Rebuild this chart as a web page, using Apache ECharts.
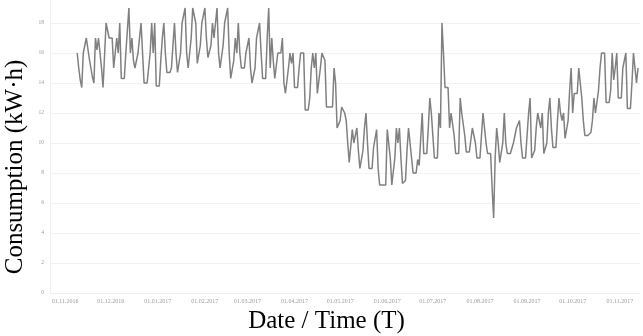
<!DOCTYPE html>
<html>
<head>
<meta charset="utf-8">
<script src="https://cdn.jsdelivr.net/npm/echarts@6/dist/echarts.min.js"></script>
<style>
html, body {margin:0; padding:0; background:#fff;}
#chart {width:643px; height:336px;}
</style>
</head>
<body>
<div id="chart"></div>
<script>

// daily readings, first one on first_day
var first_day = '09.11.2016'
var tick_labels = ['01.11.2016','01.12.2016','01.01.2017','01.02.2017','01.03.2017','01.04.2017','01.05.2017',
                   '01.06.2017','01.07.2017','01.08.2017','01.09.2017','01.10.2017','01.11.2017']

var kwh_nov_dec = [16,15,14.2,13.7,16,16.5,17,16.3,15.6,15,14.4,14,17,16.2,17,17,15,13.7,13.7,18,
                   17.5,17,17,17,15,16,17,16,18,14.3,14.3,14.3,16,17.5,19,16,17,15.5,15,15,
                   16,17,18,16,14,14,14,14,16,18,16,18,13.8,13.8,13.8,15.5,17,18,16,14.7]
var kwh_jan_feb = [14.7,14.7,15,16.5,18,16,14.7,14.7,16,18,18,19,16,15,15,17,19,18.5,18,15.3,
                   15.3,16.5,18,18.5,19,17,15.7,15.7,16.5,18,17,18,19,16,15,15,16.5,18,18,19,
                   16,14.3,14.3,15.5,17,16,18,16,15,15,15,16,16,17,15,14,14,15,17,17]
var kwh_mar_apr = [18,16,14.3,14.3,14.3,17,19,15,17,15.5,14.3,14.3,16,16,16,17,14,13.3,13.3,15,
                   16,15.3,16,13.7,13.7,13.7,15,16,16,16,12.2,12.2,12.2,13,15,16,15,16,13.3,13.3,
                   15,16,16,15.5,12.4,12.4,12.4,12.4,12.4,15,14,11,11,11.5,12.4,12.3,12,11.5,10,8.7]
var kwh_may_jun = [8.7,10.9,10,10.5,11,9.5,8.3,8.3,9.5,11,12,10,8.3,8.3,8.3,9.7,10.3,10.9,8.3,7.2,
                   7.2,7.2,7.2,7.2,10.9,11,9,7.2,7.2,9,11,10,11,9,7.3,7.3,7.5,9.5,11,10,
                   9,8,8,8,8.9,8.5,8.5,12,9.3,9.3,9.3,11,13,12,12,9,9,9,12,11]
var kwh_jul_aug = [18,16,13.7,13.7,13.7,11,12,12,10.5,9.3,9.3,9.3,13,12,12,10.5,9.4,9.4,9.4,9.4,
                   11,11,10,9,9,9,10.5,12,11,10,9.3,9.3,9.3,7,5,9,11,10,8.7,8.7,
                   10,12,10,9.3,9.3,9.3,9.3,10,10.5,11,11,11.5,10,9,9,9,10.5,12,13,9]
var kwh_sep_nov = [9,9.5,11,12,12,11,12,9.3,9.3,10,12,13,11,9.7,9.7,9.7,11.5,13,12,11.5,
                   12,10.3,10.3,11.5,13.5,15,12,13.3,13.3,13.3,15,14,13,11.5,10.5,10.5,10.5,10.5,10.7,11.5,
                   13,12,12,13.5,15,16,16,16,12.7,12.7,12.7,13.5,16,14.2,15,16,13,13,13,15,
                   15.5,16,12.3,12.3,12.3,14,16,15,14,15]

var consumption = [].concat(kwh_nov_dec, kwh_jan_feb, kwh_mar_apr, kwh_may_jun, kwh_jul_aug, kwh_sep_nov)

var DAY = 86400000

function parse_day(s){
    var p = s.split('.')
    return Date.UTC(+p[2], +p[1] - 1, +p[0])
}
function pad(n){
    return n < 10 ? '0' + n : '' + n
}
function format_day(v){
    var d = new Date(v)
    return pad(d.getUTCDate()) + '.' + pad(d.getUTCMonth() + 1) + '.' + d.getUTCFullYear()
}

function render_consumption(chart_id){

    var start = parse_day(first_day)
    var line_data = consumption.map(function(v, i){
        return [start + i * DAY, v]
    })
    var tick_values = tick_labels.map(parse_day)
    var axis_origin = tick_values[0]

    var chart_div = echarts.getInstanceByDom(document.getElementById(chart_id)) ? echarts.getInstanceByDom(document.getElementById(chart_id)) : echarts.init(document.getElementById(chart_id))

    var option = {
        animation: false,
        grid: {
            left: 50,
            right: 3,
            top: -7,
            bottom: 43,
            outerBoundsMode: 'none'
        },
        xAxis: {
            // dates kept as plain millisecond values so the month labels can be placed exactly
            type: 'value',
            min: axis_origin - 9.9 * DAY,
            max: axis_origin + 378.3 * DAY,
            name: 'Date / Time (T)',
            nameLocation: 'middle',
            nameGap: 13,
            nameTextStyle: {
                fontFamily: 'Liberation Serif',
                fontSize: 25,
                color: '#000',
                padding: [0, 37, 0, 0]
            },
            axisLine: {show: true, lineStyle: {color: '#eeeeee'}},
            axisTick: {show: false},
            splitLine: {show: false},
            axisLabel: {
                customValues: tick_values,
                formatter: format_day,
                fontFamily: 'Liberation Serif',
                fontSize: 6,
                color: '#9a9a9a',
                margin: 5,
                showMinLabel: true,
                showMaxLabel: true,
                hideOverlap: false
            }
        },
        yAxis: {
            type: 'value',
            min: 0,
            max: 20,
            interval: 2,
            name: 'Consumption (kW·h)',
            nameLocation: 'middle',
            nameGap: 12,
            nameTextStyle: {
                fontFamily: 'Liberation Serif',
                fontSize: 25,
                color: '#000',
                padding: [0, 48, 0, 0]
            },
            axisLine: {show: true, lineStyle: {color: '#f0f0f0'}},
            axisTick: {show: false},
            splitLine: {show: true, lineStyle: {color: '#f2f2f2', width: 1}},
            axisLabel: {
                fontFamily: 'Liberation Serif',
                fontSize: 5.5,
                color: '#9a9a9a',
                margin: 6
            }
        },
        series: [{
            type: 'line',
            data: line_data,
            symbol: 'none',
            lineStyle: {color: '#808080', width: 1.5}
        }]
    }
    chart_div.setOption(option, true)
}

render_consumption('chart')
</script>
</body>
</html>
